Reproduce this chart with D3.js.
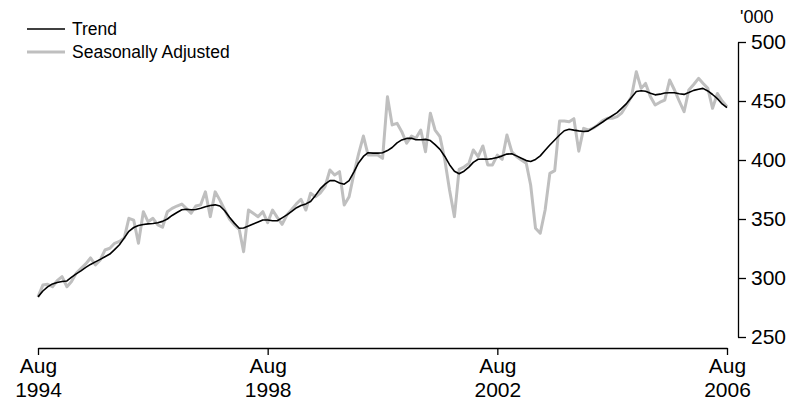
<!DOCTYPE html>
<html>
<head>
<meta charset="utf-8">
<script src="https://cdn.jsdelivr.net/npm/d3@7"></script>
<style>
  html, body { margin: 0; padding: 0; background: #fff; }
  svg { display: block; }
  text { font-family: "Liberation Sans", Arial, sans-serif; fill: #000; }
</style>
</head>
<body>
<svg id="chart" width="796" height="407"></svg>
<script>
// ---- Data (monthly, Aug 1994 to Aug 2006), '000 ----
const startMonth = "1994-08";
const trend = [
  284, 289, 292.5, 295, 296.2, 297, 297.5, 300.5, 303.5, 306,
  309, 311.5, 313.7, 315.8, 318, 320.3, 324, 328.2, 334, 339.6,
  342.8, 344.5, 345.3, 345.9, 346.2, 346.8, 348, 350, 353, 355.5,
  357.8, 358.2, 357.8, 358.1, 359.1, 360.3, 361.5, 362, 361, 357,
  351.5, 346.5, 342.2, 342.4, 344, 345.8, 347.5, 349.2, 349.2, 348.5,
  348.5, 351, 353.5, 356.5, 359.6, 361.5, 362.8, 364.8, 370, 375.5,
  379.5, 382.5, 382.5, 380.5, 379.5, 382.5, 390, 397.5, 403, 406.2,
  405.8, 405.8, 406.2, 408, 410.6, 414.5, 417, 418.3, 418.4, 417.2,
  417.2, 417.5, 416.5, 413, 409, 403, 396, 390.5, 388.3, 390.5,
  394, 398, 400.6, 400.8, 400.6, 401.2, 402.2, 403.5, 405, 405.3,
  403.5, 401.5, 399.5, 398.8, 400.5, 403.5, 408.2, 412.7, 417, 421.2,
  424.8, 426, 425.3, 424.7, 424.2, 424.5, 427, 429.5, 432.2, 435,
  437.5, 440.1, 444, 448, 453, 458, 458.7, 458.3, 456.5, 455.2,
  455.8, 456.8, 457, 457, 456.2, 455.6, 457.2, 459, 460, 460.7,
  458.5, 455.5, 452, 447.5, 444.3
];
const seasonallyAdjusted = [
  284, 294, 294.7, 292.6, 297.7, 301.1, 292.6, 296.9, 304, 308,
  312, 317, 311, 315.3, 323.7, 325.2, 329.4, 331, 334, 350.6,
  349, 329.4, 356.2, 347.7, 350.6, 345, 343, 356.2, 359, 361,
  362.7, 359, 355, 361, 362, 373, 352, 373, 366, 357.6,
  350, 345, 341.3, 322.3, 357.6, 354.8, 352, 356.2, 346.9, 357.6,
  351.4, 345.5, 353.4, 358, 363, 366.7, 357.6, 371.8, 368.9, 372,
  377.4, 391.5, 387.3, 390.1, 361.9, 368.9, 388.7, 405, 420.3, 404.2,
  404.5, 404.2, 401.4, 453.6, 429.7, 431.1, 424, 414.2, 420.3, 418.4,
  425.4, 407, 439.6, 425.4, 419.8, 400, 374.6, 352, 392, 394,
  397, 408.5, 402.8, 411.9, 395.8, 395.8, 404.2, 400.6, 421.2, 407,
  403, 400, 397.2, 378.8, 342.1, 337.9, 357.6, 388.7, 391, 433,
  433, 432.5, 435, 407.5, 426.8, 425.4, 427, 429.7, 433.3, 435.3,
  435.3, 436.7, 440, 446.6, 453.6, 474.8, 460.7, 464.9, 453.6, 446.6,
  449, 450.8, 467.8, 459.3, 450, 440.9, 459.3, 464, 469.2, 465,
  460.7, 443.8, 456.4, 450, 445.2
];
const xTickLabels = [["Aug", "1994"], ["Aug", "1998"], ["Aug", "2002"], ["Aug", "2006"]];
const yTicks = [250, 300, 350, 400, 450, 500];
const seriesNames = ["Trend", "Seasonally Adjusted"];
const unitLabel = "'000";

// ---- Build dates ----
const parse = d3.timeParse("%Y-%m");
const start = parse(startMonth);
const dates = trend.map((_, i) => d3.timeMonth.offset(start, i));
const xTickDates = xTickLabels.map(l => parse(l[1] + "-08"));

// ---- Scales ----
const svg = d3.select("#chart");
const x = d3.scaleTime()
  .domain([dates[0], dates[dates.length - 1]])
  .range([38, 727]);
const y = d3.scaleLinear().domain([250, 500]).range([337, 42]);

// ---- Lines ----
const line = d3.line().x((d, i) => x(dates[i])).y(d => y(d));

svg.append("path")
  .datum(seasonallyAdjusted)
  .attr("fill", "none")
  .attr("stroke", "#bfbfbf")
  .attr("stroke-width", 3)
  .attr("stroke-linejoin", "round")
  .attr("d", line);

svg.append("path")
  .datum(trend)
  .attr("fill", "none")
  .attr("stroke", "#000")
  .attr("stroke-width", 1.6)
  .attr("stroke-linejoin", "round")
  .attr("d", line);

// ---- X axis ----
const xAxis = d3.axisBottom(x)
  .tickValues(xTickDates)
  .tickSize(7)
  .tickSizeOuter(0)
  .tickFormat(() => "");
const gx = svg.append("g")
  .attr("transform", "translate(0,348)")
  .call(xAxis);
gx.select(".domain").attr("stroke", "#000").attr("stroke-width", 1.3);
gx.selectAll(".tick line").attr("stroke", "#000").attr("stroke-width", 1.3);
gx.selectAll(".tick").each(function(d, i) {
  const t = d3.select(this).append("text")
    .attr("text-anchor", "middle")
    .style("font-size", "21px")
    .attr("fill", "#000");
  t.append("tspan").attr("x", 0).attr("y", 25).text(xTickLabels[i][0]);
  t.append("tspan").attr("x", 0).attr("y", 49).text(xTickLabels[i][1]);
});

// ---- Y axis (right) ----
const yAxis = d3.axisRight(y)
  .tickValues(yTicks)
  .tickSize(8)
  .tickSizeOuter(0)
  .tickPadding(5);
const gy = svg.append("g")
  .attr("transform", "translate(738,0)")
  .call(yAxis);
gy.select(".domain").attr("stroke", "#000").attr("stroke-width", 1.3);
gy.selectAll(".tick line").attr("stroke", "#000").attr("stroke-width", 1.3);
gy.selectAll(".tick text")
  .style("font-size", "21px")
  .attr("fill", "#000")
  .attr("font-family", "Liberation Sans, Arial, sans-serif");

svg.append("text")
  .attr("x", 740).attr("y", 23)
  .style("font-size", "18px")
  .text(unitLabel);

// ---- Legend ----
const legendColors = ["#000", "#bfbfbf"];
const legendWidths = [1.6, 3];
const lg = svg.append("g");
seriesNames.forEach((name, i) => {
  const yy = 29 + i * 23;
  lg.append("line")
    .attr("x1", 27).attr("x2", 65)
    .attr("y1", yy).attr("y2", yy)
    .attr("stroke", legendColors[i])
    .attr("stroke-width", legendWidths[i]);
  lg.append("text")
    .attr("x", 72).attr("y", yy)
    .attr("dy", "0.35em")
    .style("font-size", "17.5px")
    .text(name);
});
</script>
</body>
</html>
